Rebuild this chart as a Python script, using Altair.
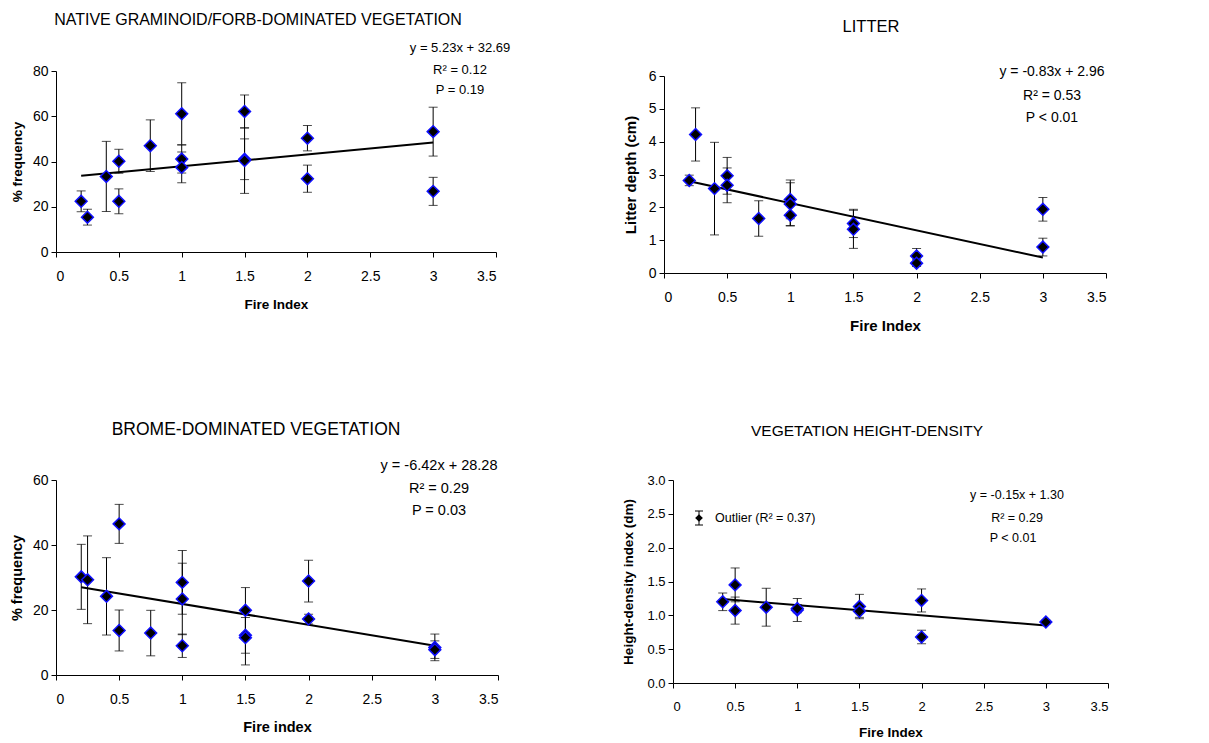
import altair as alt
import pandas as pd

# ---------------- data ----------------
nat_x = [0.2, 0.25, 0.4, 0.5, 0.5, 0.75, 1, 1, 1, 1.5, 1.5, 1.5, 2, 2, 3, 3]
nat_y = [22.4, 15.4, 33.4, 40.1, 22.4, 47.0, 61.1, 41.1, 37.4, 62.1, 41.0, 40.4, 50.3, 32.4, 53.2, 26.8]
nat_e = [4.6, 3.5, 15.5, 5.3, 5.5, 11.4, 13.7, 6.2, 6.8, 7.3, 9.0, 14.5, 5.6, 6.0, 10.8, 6.2]

lit_x = [0.2, 0.25, 0.4, 0.5, 0.5, 0.75, 1, 1, 1, 1.5, 1.5, 2, 2, 3, 3]
lit_y = [2.82, 4.22, 2.57, 2.96, 2.67, 1.66, 2.24, 2.10, 1.76, 1.51, 1.33, 0.52, 0.30, 1.94, 0.79]
lit_e = [0.16, 0.81, 1.41, 0.56, 0.53, 0.54, 0.59, 0.65, 0.33, 0.43, 0.58, 0.23, 0.10, 0.36, 0.27]

br_x = [0.2, 0.25, 0.4, 0.5, 0.5, 0.75, 1, 1, 1, 1.5, 1.5, 1.5, 2, 2, 3, 3]
br_y = [30.2, 29.3, 24.2, 46.5, 13.7, 12.9, 28.5, 23.4, 9.0, 19.9, 12.2, 11.5, 28.9, 17.2, 8.5, 7.8]
br_e = [10.0, 13.5, 11.9, 6.0, 6.3, 7.0, 9.8, 11.0, 3.6, 7.0, 5.5, 8.4, 6.4, 1.5, 4.1, 2.7]

hd_x = [0.4, 0.5, 0.5, 0.75, 1, 1, 1.5, 1.5, 2, 2, 3]
hd_y = [1.20, 1.45, 1.07, 1.12, 1.08, 1.10, 1.13, 1.06, 1.22, 0.68, 0.90]
hd_e = [0.13, 0.25, 0.20, 0.28, 0.17, 0.06, 0.18, 0.09, 0.17, 0.10, 0.03]

# regression lines (slope, intercept, x range) as printed on the chart
nat_fit = (5.23, 32.69, 0.2, 3.0)
lit_fit = (-0.83, 2.96, 0.2, 3.0)
br_fit = (-6.42, 28.28, 0.2, 3.0)
hd_fit = (-0.15, 1.30, 0.4, 3.0)

x_ticks = [0, 0.5, 1, 1.5, 2, 2.5, 3, 3.5]

FONT = "Liberation Sans"


def txt_layer(text, x, y, size, align="center", weight="normal"):
    return alt.Chart(pd.DataFrame({"t": [text]})).mark_text(
        font=FONT, fontSize=size, align=align, baseline="middle", color="black",
        fontWeight=weight
    ).encode(x=alt.value(x), y=alt.value(y), text="t:N")


def panel(xs, ys, es, fit, ymax, yticks, yfmt, ytitle, xtitle, title, title_xy,
          ann, w, h, fs, legend=None, top_gap=0, xtp=14):
    lab, axt, tit, ans, ytp = fs
    df = pd.DataFrame({"x": xs, "y": ys, "e": es})
    base = alt.Chart(df).transform_calculate(
        lo="datum.y - datum.e", hi="datum.y + datum.e"
    )
    xsc = alt.Scale(domain=[0, 3.5], nice=False)
    if top_gap:
        ysc = alt.Scale(domain=[0, ymax], nice=False, range=[h, top_gap])
    else:
        ysc = alt.Scale(domain=[0, ymax], nice=False)
    xax = alt.Axis(values=x_ticks, format="~g", title=xtitle, labelPadding=12,
                   titlePadding=xtp, labelFontSize=lab, titleFontSize=axt,
                   labelOverlap=False)
    yax = alt.Axis(values=yticks, format=yfmt, title=ytitle, labelPadding=3,
                   titlePadding=ytp, labelFontSize=lab, titleFontSize=axt,
                   labelOverlap=False)

    def X():
        return alt.X("x:Q", scale=xsc, axis=xax)

    def Y(f):
        return alt.Y(f, scale=ysc, axis=yax)

    rule = base.mark_rule(color="black", strokeWidth=1).encode(
        x=X(), y=Y("lo:Q"), y2="hi:Q")
    cap_lo = base.mark_tick(orient="horizontal", size=9, thickness=1, color="black").encode(
        x=X(), y=Y("lo:Q"))
    cap_hi = base.mark_tick(orient="horizontal", size=9, thickness=1, color="black").encode(
        x=X(), y=Y("hi:Q"))

    slope, icpt, x0, x1 = fit
    line = alt.Chart(pd.DataFrame({"x": [x0, x1]})).transform_calculate(
        y=f"{slope} * datum.x + {icpt}"
    ).mark_line(color="black", strokeWidth=2).encode(x=X(), y=Y("y:Q"))

    pts = base.mark_point(shape="diamond", filled=True, fill="black", stroke="#1010ff",
                          strokeWidth=1.5, size=140, opacity=1).encode(x=X(), y=Y("y:Q"))

    layers = [rule, cap_lo, cap_hi, line, pts]

    tx, ty = title_xy
    layers.append(txt_layer(title, tx, ty, tit))

    for (t, ax_, ay_) in ann:
        layers.append(txt_layer(t, ax_, ay_, ans))

    if legend is not None:
        ltxt, lx, ly = legend
        layers.append(txt_layer(ltxt, lx + 16, ly, ans, align="left"))
        one = pd.DataFrame({"t": [0]})
        layers.append(alt.Chart(one).mark_point(
            shape="diamond", filled=True, fill="black", size=60, opacity=1
        ).encode(x=alt.value(lx), y=alt.value(ly)))
        layers.append(alt.Chart(one).mark_rule(color="black").encode(
            x=alt.value(lx), y=alt.value(ly - 7), y2=alt.value(ly + 7)))
        layers.append(alt.Chart(one).mark_rule(color="black").encode(
            x=alt.value(lx - 4), x2=alt.value(lx + 4), y=alt.value(ly - 7)))
        layers.append(alt.Chart(one).mark_rule(color="black").encode(
            x=alt.value(lx - 4), x2=alt.value(lx + 4), y=alt.value(ly + 7)))

    return alt.layer(*layers).properties(width=w, height=h)


p1 = panel(nat_x, nat_y, nat_e, nat_fit, 80, [0, 20, 40, 60, 80], "d", "% frequency",
           "Fire Index", "NATIVE GRAMINOID/FORB-DOMINATED VEGETATION", (202, -51),
           [("y = 5.23x + 32.69", 404, -23), ("R² = 0.12", 404, -1), ("P = 0.19", 404, 19)],
           440, 181, (14, 13.5, 16, 13, 8))
p2 = panel(lit_x, lit_y, lit_e, lit_fit, 6, [0, 1, 2, 3, 4, 5, 6], "d", "Litter depth (cm)",
           "Fire Index", "LITTER", (207, -44),
           [("y = -0.83x + 2.96", 388, 1), ("R² = 0.53", 388, 25), ("P < 0.01", 388, 47)],
           442, 202, (14, 15, 16.5, 14, 10), top_gap=5)
p3 = panel(br_x, br_y, br_e, br_fit, 60, [0, 20, 40, 60], "d", "% frequency",
           "Fire index", "BROME-DOMINATED VEGETATION", (200, -50),
           [("y = -6.42x + 28.28", 383, -14), ("R² = 0.29", 383, 9), ("P = 0.03", 383, 31)],
           442, 195, (14, 14.5, 17.5, 14.5, 8))
p4 = panel(hd_x, hd_y, hd_e, hd_fit, 3, [0, 0.5, 1, 1.5, 2, 2.5, 3], ".1f",
           "Height-density index (dm)", "Fire Index", "VEGETATION HEIGHT-DENSITY", (194, -49),
           [("y = -0.15x + 1.30", 344, 15), ("R² = 0.29", 344, 38), ("P < 0.01", 340, 58)],
           435, 203, (13, 13.5, 15.5, 12.5, 11), legend=("Outlier (R² = 0.37)", 26, 38),
           xtp=12)

chart = alt.vconcat(
    alt.hconcat(p1, p2, spacing=112),
    alt.hconcat(p3, p4, spacing=122),
    spacing=88,
).properties(
    padding={"left": 1, "top": 4, "right": 2, "bottom": 2}
).configure_view(stroke=None).configure_axis(
    grid=False, domainColor="black", tickColor="black", labelColor="black",
    titleColor="black", labelFont=FONT, titleFont=FONT,
    titleFontWeight="bold", tickSize=5, domainWidth=1, tickWidth=1,
    labelFontWeight="normal"
)

chart.save("out.html", embed_options={"renderer": "svg", "actions": False})
